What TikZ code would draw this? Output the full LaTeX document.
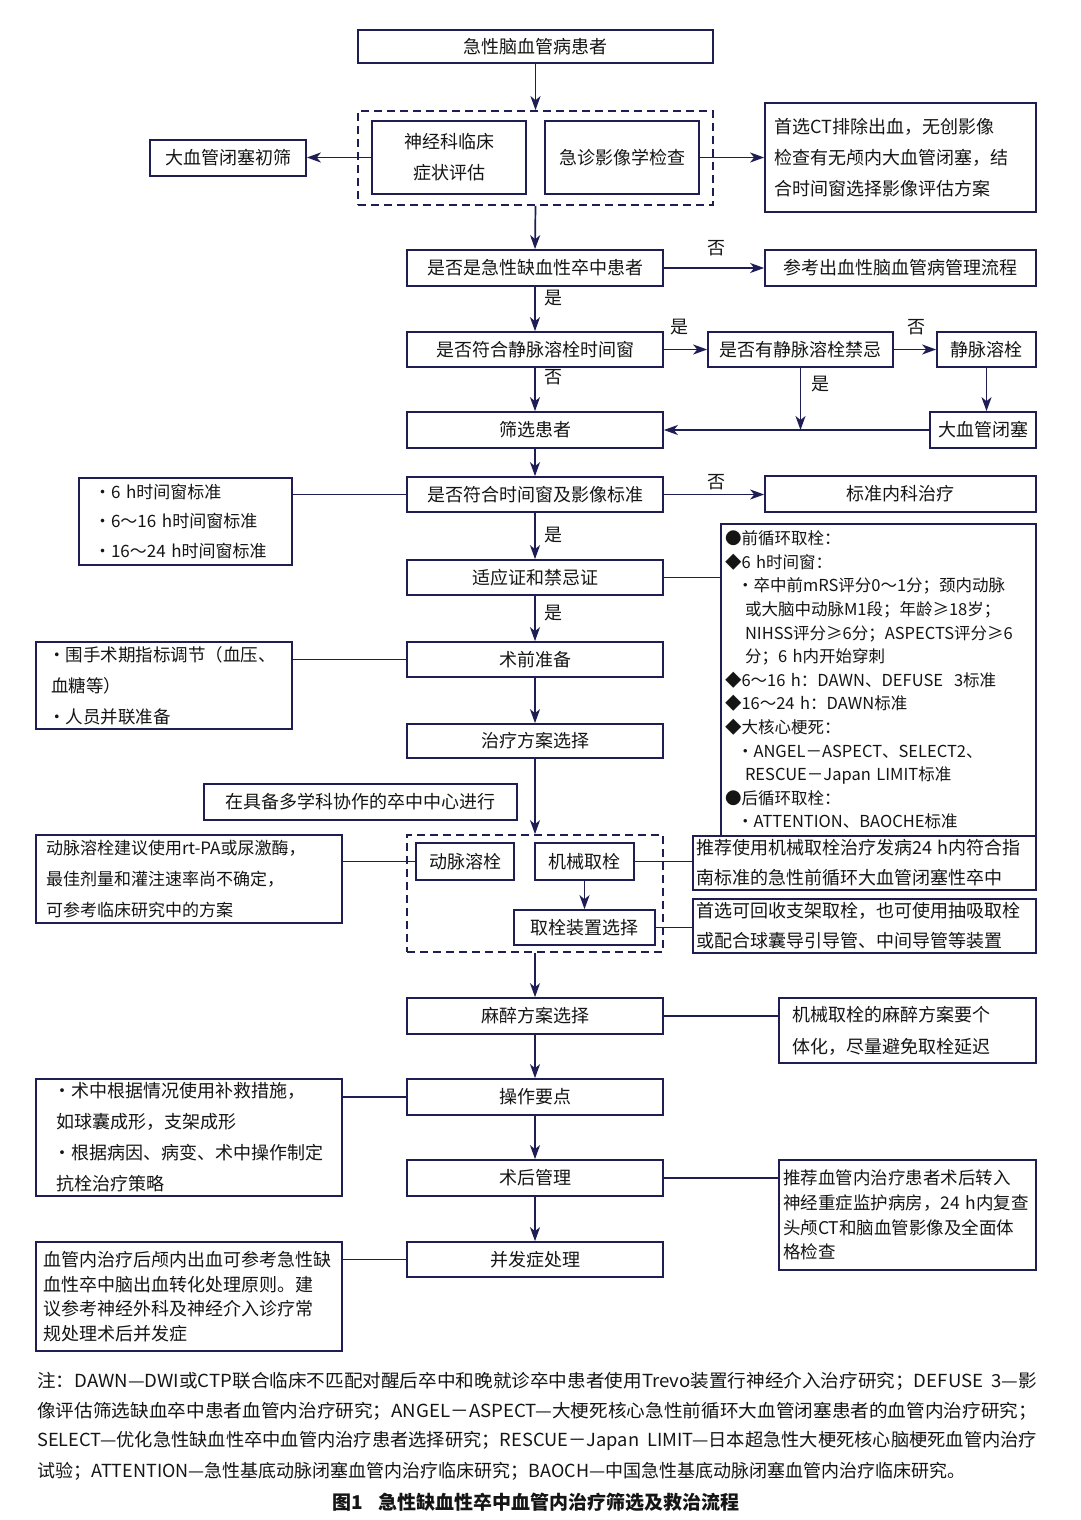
\documentclass[tikz,border=0pt]{standalone}
\usepackage{fontspec}
\usepackage{graphicx}
\setmainfont{Noto Sans CJK SC}
\usetikzlibrary{arrows.meta,calc}
\definecolor{navy}{HTML}{1E1E55}
\definecolor{ink}{HTML}{151515}
\newcommand\fullline[1]{\resizebox{1000pt}{\height}{#1}}
\begin{document}
\begin{tikzpicture}[x=1pt,y=-1pt,
  every node/.style={text=ink},
  box/.style={draw=navy, line width=1.7pt, inner sep=0pt, font=\fontsize{18}{30}\selectfont, align=center},
  lbox/.style={box, align=left},
  dbox/.style={draw=navy, line width=1.7pt, dash pattern=on 8pt off 5pt, inner sep=0pt},
  lbl/.style={font=\fontsize{18}{20}\selectfont, inner sep=0pt},
  arr/.style={draw=navy, line width=1.7pt, -{Stealth[length=14pt,width=10pt,inset=4pt]}},
  ln/.style={draw=navy, line width=1.7pt},
  note/.style={anchor=west, inner sep=0pt, font=\fontsize{18}{20}\selectfont}
]
\useasboundingbox (0,0) rectangle (1080,1520);
\fill[white] (0,0) rectangle (1080,1520);

% ---------- top part ----------
\node[box, minimum width=355, minimum height=33] (n0) at (535.5,46.5) {急性脑血管病患者};
\node[dbox, minimum width=355, minimum height=94] (d1) at (535.5,158) {};
\node[box, minimum width=154, minimum height=73, font=\fontsize{18}{31}\selectfont] (n1a) at (449,157.5) {神经科临床\\症状评估};
\node[box, minimum width=154, minimum height=73] (n1b) at (622,157.5) {急诊影像学检查};
\node[box, minimum width=156, minimum height=36] (s1) at (228,158) {大血管闭塞初筛};
\node[lbox, minimum width=271, minimum height=109, text width=252, font=\fontsize{18}{31}\selectfont] (s2) at (900.5,157.5)
  {首选CT排除出血，无创影像\\检查有无颅内大血管闭塞，结\\合时间窗选择影像评估方案};

\node[box, minimum width=256, minimum height=36] (n2) at (535,268) {是否是急性缺血性卒中患者};
\node[box, minimum width=271, minimum height=36] (s3) at (900.5,268) {参考出血性脑血管病管理流程};

\node[box, minimum width=256, minimum height=35] (n3) at (535,349.5) {是否符合静脉溶栓时间窗};
\node[box, minimum width=185, minimum height=35] (n3b) at (800.5,349.5) {是否有静脉溶栓禁忌};
\node[box, minimum width=99, minimum height=35] (n3c) at (986.5,349.5) {静脉溶栓};

\node[box, minimum width=256, minimum height=36] (n4) at (535,430) {筛选患者};
\node[box, minimum width=106, minimum height=36] (n4b) at (983,430) {大血管闭塞};

\node[box, minimum width=256, minimum height=35] (n5) at (535,494.5) {是否符合时间窗及影像标准};
\node[lbox, minimum width=213, minimum height=87, text width=183, font=\fontsize{17}{29.5}\selectfont] (s5L) at (185.5,521.5)
  {·6~h时间窗标准\\·6～16~h时间窗标准\\·16～24~h时间窗标准};
\node[box, minimum width=271, minimum height=36] (s5R) at (900.5,494) {标准内科治疗};

\node[box, minimum width=256, minimum height=35] (n6) at (535,577.5) {适应证和禁忌证};
\node[lbox, minimum width=315, minimum height=312, text width=307, font=\fontsize{16.5}{23.6}\selectfont] (s6R) at (878.5,680)
  {●前循环取栓：\\
   ◆6~h时间窗：\\
   \hspace*{12pt}·卒中前mRS评分0～1分；颈内动脉\\
   \hspace*{20pt}或大脑中动脉M1段；年龄≥18岁；\\
   \hspace*{20pt}NIHSS评分≥6分；ASPECTS评分≥6\\
   \hspace*{20pt}分；6~h内开始穿刺\\
   ◆6～16~h：DAWN、DEFUSE~~3标准\\
   ◆16～24~h：DAWN标准\\
   ◆大核心梗死：\\
   \hspace*{12pt}·ANGEL－ASPECT、SELECT2、\\
   \hspace*{20pt}RESCUE－Japan~LIMIT标准\\
   ●后循环取栓：\\
   \hspace*{12pt}·ATTENTION、BAOCHE标准};

\node[box, minimum width=256, minimum height=35] (n7) at (535,659.5) {术前准备};
\node[lbox, minimum width=256, minimum height=87, text width=232, font=\fontsize{17.5}{31}\selectfont] (s7L) at (164,685.5)
  {·围手术期指标调节（血压、\\\hspace*{3pt}血糖等）\\·人员并联准备};

\node[box, minimum width=256, minimum height=34] (n8) at (535,741) {治疗方案选择};
\node[box, minimum width=313, minimum height=36] (s8) at (360.5,802) {在具备多学科协作的卒中中心进行};

% ---------- middle part ----------
\node[dbox, minimum width=256, minimum height=117] (d2) at (535,893.5) {};
\node[box, minimum width=98, minimum height=37] (n9a) at (465,861.5) {动脉溶栓};
\node[box, minimum width=99, minimum height=37] (n9b) at (584.5,861.5) {机械取栓};
\node[box, minimum width=141, minimum height=35] (n9c) at (584.5,927.5) {取栓装置选择};
\node[lbox, minimum width=306, minimum height=88, text width=286, font=\fontsize{17}{31}\selectfont] (s9L) at (189,879)
  {动脉溶栓建议使用rt-PA或尿激酶，\\最佳剂量和灌注速率尚不确定，\\可参考临床研究中的方案};
\node[lbox, minimum width=343, minimum height=54, text width=337, font=\fontsize{18}{30}\selectfont] (s9R1) at (864.5,863)
  {推荐使用机械取栓治疗发病24~h内符合指\\南标准的急性前循环大血管闭塞性卒中};
\node[lbox, minimum width=343, minimum height=54, text width=337, font=\fontsize{18}{30}\selectfont] (s9R2) at (864.5,926)
  {首选可回收支架取栓，也可使用抽吸取栓\\或配合球囊导引导管、中间导管等装置};

\node[box, minimum width=256, minimum height=36] (n10) at (535,1016) {麻醉方案选择};
\node[lbox, minimum width=257, minimum height=65, text width=231, font=\fontsize{18}{32}\selectfont] (s10R) at (907.5,1030.5)
  {机械取栓的麻醉方案要个\\体化，尽量避免取栓延迟};

\node[box, minimum width=256, minimum height=36] (n11) at (535,1097) {操作要点};
\node[lbox, minimum width=306, minimum height=117, text width=272, font=\fontsize{18}{31}\selectfont] (s11L) at (189,1137.5)
  {·术中根据情况使用补救措施，\\\hspace*{3pt}如球囊成形，支架成形\\·根据病因、病变、术中操作制定\\\hspace*{3pt}抗栓治疗策略};

\node[box, minimum width=256, minimum height=36] (n12) at (535,1178) {术后管理};
\node[lbox, minimum width=257, minimum height=110, text width=249, font=\fontsize{17.5}{24.7}\selectfont] (s12R) at (907.5,1215)
  {推荐血管内治疗患者术后转入\\神经重症监护病房，24~h内复查\\头颅CT和脑血管影像及全面体\\格检查};

\node[box, minimum width=256, minimum height=35] (n13) at (535,1259.5) {并发症处理};
\node[lbox, minimum width=306, minimum height=109, text width=292, font=\fontsize{18}{24.6}\selectfont] (s13L) at (189,1296.5)
  {血管内治疗后颅内出血可参考急性缺\\血性卒中脑出血转化处理原则。建\\议参考神经外科及神经介入诊疗常\\规处理术后并发症};

% ---------- labels ----------
\node[lbl] (y1) at (553,298) {是};
\node[lbl] (f1) at (716,248) {否};
\node[lbl] (y2) at (679,327) {是};
\node[lbl] (f2) at (916,327) {否};
\node[lbl] (f3) at (553,377) {否};
\node[lbl] (y3) at (820,384) {是};
\node[lbl] (f4) at (716,482) {否};
\node[lbl] (y4) at (553,535) {是};
\node[lbl] (y5) at (553,613) {是};

% ---------- connectors ----------
\draw[arr] (n0.south) -- (d1.north);
\draw[arr] (n1a.west) -- (n1a.west -| s1.east);
\draw[arr] (n1b.east) -- (n1b.east -| s2.west);
\draw[arr] (d1.south) -- (n2.north);
\draw[arr] (n2.east) -- (s3.west);
\draw[arr] (n2.south) -- (n3.north);
\draw[arr] (n3.east) -- (n3b.west);
\draw[arr] (n3b.east) -- (n3c.west);
\draw[arr] (n3.south) -- (n4.north);
\draw[arr] (n3c.south) -- (n3c.south |- n4b.north);
\draw[arr] (n4b.west) -- (n4.east);
\coordinate (j1) at (n3b.south |- n4.east);
\draw[arr] (n3b.south) -- (j1);
\draw[arr] (n4.south) -- (n5.north);
\draw[ln] (s5L.east |- n5.west) -- (n5.west);
\draw[arr] (n5.east) -- (n5.east -| s5R.west);
\draw[arr] (n5.south) -- (n6.north);
\draw[ln] (n6.east) -- (n6.east -| s6R.west);
\draw[arr] (n6.south) -- (n7.north);
\draw[ln] (s7L.east |- n7.west) -- (n7.west);
\draw[arr] (n7.south) -- (n8.north);
\draw[arr] (n8.south) -- (d2.north);
\draw[ln] (s9L.east |- n9a.west) -- (n9a.west);
\draw[ln] (n9b.east) -- (n9b.east -| s9R1.west);
\draw[arr] (n9b.south) -- (n9c.north);
\draw[ln] (n9c.east) -- (n9c.east -| s9R2.west);
\draw[arr] (d2.south) -- (n10.north);
\draw[ln] (n10.east) -- (n10.east -| s10R.west);
\draw[arr] (n10.south) -- (n11.north);
\draw[ln] (s11L.east |- n11.west) -- (n11.west);
\draw[arr] (n11.south) -- (n12.north);
\draw[ln] (n12.east) -- (n12.east -| s12R.west);
\draw[arr] (n12.south) -- (n13.north);
\draw[ln] (s13L.east |- n13.west) -- (n13.west);

% ---------- notes ----------
\node[note] (nt1) at (37,1381) {\fullline{注：DAWN—DWI或CTP联合临床不匹配对醒后卒中和晚就诊卒中患者使用Trevo装置行神经介入治疗研究；DEFUSE\ \ 3—影}};
\node[note] (nt2) at (37,1411) {\fullline{像评估筛选缺血卒中患者血管内治疗研究；ANGEL－ASPECT—大梗死核心急性前循环大血管闭塞患者的血管内治疗研究；}};
\node[note] (nt3) at (37,1441) {\fullline{SELECT—优化急性缺血性卒中血管内治疗患者选择研究；RESCUE－Japan\ \ LIMIT—日本超急性大梗死核心脑梗死血管内治疗}};
\node[note] (nt4) at (37,1471) {试验；ATTENTION—急性基底动脉闭塞血管内治疗临床研究；BAOCH—中国急性基底动脉闭塞血管内治疗临床研究。};
\node[inner sep=0pt, font=\fontsize{19}{20}\selectfont\bfseries] (cap) at (536,1502) {图1\hspace{16pt}急性缺血性卒中血管内治疗筛选及救治流程};
\end{tikzpicture}
\end{document}
